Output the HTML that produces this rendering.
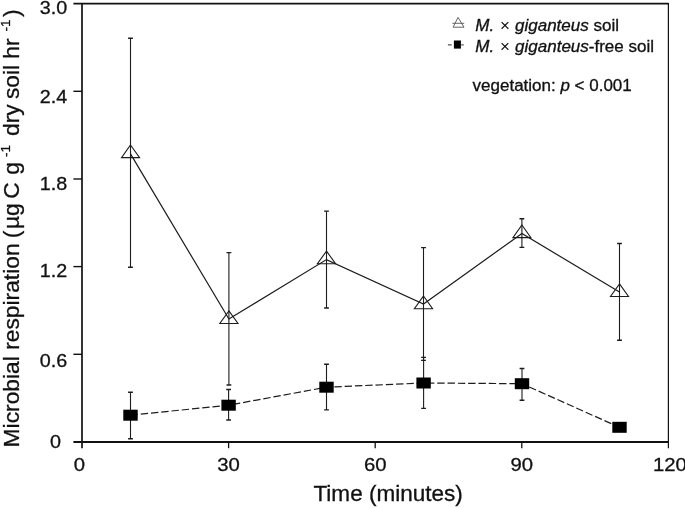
<!DOCTYPE html>
<html><head><meta charset="utf-8"><title>Microbial respiration</title>
<style>html,body{margin:0;padding:0;background:#fff}svg{display:block;will-change:transform}text{font-family:"Liberation Sans",Arial,sans-serif;fill:#111;stroke:#111;stroke-width:0.3px}</style></head><body>
<svg width="685" height="508" viewBox="0 0 685 508">
<rect width="685" height="508" fill="#fff"/>
<g stroke="#1c1c1c" stroke-width="1.1" fill="none">
<path d="M130.5 38.2V267.3"/><path stroke-width="1.4" d="M128.1 38.2H132.9M128.1 267.3H132.9"/>
<path d="M228.9 252.6V385.0"/><path stroke-width="1.4" d="M226.5 252.6H231.3M226.5 385.0H231.3"/>
<path d="M326.5 211.1V308.0"/><path stroke-width="1.4" d="M324.1 211.1H328.9M324.1 308.0H328.9"/>
<path d="M423.5 247.6V360.4"/><path stroke-width="1.4" d="M421.1 247.6H425.9M421.1 360.4H425.9"/>
<path d="M521.9 218.7V247.4"/><path stroke-width="1.4" d="M519.5 218.7H524.3M519.5 247.4H524.3"/>
<path d="M619.5 243.5V340.3"/><path stroke-width="1.4" d="M617.1 243.5H621.9M617.1 340.3H621.9"/>
<path d="M130.5 392.3V438.7"/><path stroke-width="1.4" d="M128.1 392.3H132.9M128.1 438.7H132.9"/>
<path d="M228.6 389.5V420.0"/><path stroke-width="1.4" d="M226.2 389.5H231.0M226.2 420.0H231.0"/>
<path d="M326.5 364.2V409.9"/><path stroke-width="1.4" d="M324.1 364.2H328.9M324.1 409.9H328.9"/>
<path d="M423.6 357.4V408.4"/><path stroke-width="1.4" d="M421.2 357.4H426.0M421.2 408.4H426.0"/>
<path d="M522.0 368.5V400.2"/><path stroke-width="1.4" d="M519.6 368.5H524.4M519.6 400.2H524.4"/>
</g>
<polyline fill="none" stroke="#1c1c1c" stroke-width="1.2" points="130.5,153.9 228.9,319.0 326.5,259.6 423.5,304.0 521.9,233.5 619.5,292.0"/>
<polyline fill="none" stroke="#1c1c1c" stroke-width="1.2" stroke-dasharray="7.4 2.9" points="130.5,415.2 228.6,405.2 326.5,387.2 423.6,383.0 522.0,383.7 619.5,427.3"/>
<path d="M130.5 145.00L139.6 157.65L121.5 157.65Z" fill="none" stroke="#1c1c1c" stroke-width="1.1" stroke-linejoin="miter"/>
<path d="M228.9 310.85L238.0 323.50L219.8 323.50Z" fill="none" stroke="#1c1c1c" stroke-width="1.1" stroke-linejoin="miter"/>
<path d="M326.5 251.10L335.6 263.75L317.4 263.75Z" fill="none" stroke="#1c1c1c" stroke-width="1.1" stroke-linejoin="miter"/>
<path d="M423.5 296.05L432.6 308.70L414.4 308.70Z" fill="none" stroke="#1c1c1c" stroke-width="1.1" stroke-linejoin="miter"/>
<path d="M521.9 225.00L530.9 237.65L512.9 237.65Z" fill="none" stroke="#1c1c1c" stroke-width="1.1" stroke-linejoin="miter"/>
<path d="M619.5 283.90L628.5 296.55L610.5 296.55Z" fill="none" stroke="#1c1c1c" stroke-width="1.1" stroke-linejoin="miter"/>
<rect x="123.3" y="409.7" width="14.4" height="11" fill="#000"/>
<rect x="221.4" y="399.7" width="14.4" height="11" fill="#000"/>
<rect x="319.3" y="381.7" width="14.4" height="11" fill="#000"/>
<rect x="416.4" y="377.5" width="14.4" height="11" fill="#000"/>
<rect x="514.8" y="378.2" width="14.4" height="11" fill="#000"/>
<rect x="612.3" y="421.8" width="14.4" height="11" fill="#000"/>
<g stroke="#111" fill="none">
<path d="M73.4 3.6H668.4" stroke-width="1.6"/>
<path d="M82 2.9V448.2" stroke-width="1.7"/>
<path d="M73.4 442H669" stroke-width="1.8"/>
<path d="M668.4 3V448.2" stroke-width="1.2"/>
<path d="M73.4 354.3H82" stroke-width="1.4"/>
<path d="M73.4 266.6H82" stroke-width="1.4"/>
<path d="M73.4 179.0H82" stroke-width="1.4"/>
<path d="M73.4 91.3H82" stroke-width="1.4"/>
<path d="M228.6 442V448.2" stroke-width="1.3"/>
<path d="M375.2 442V448.2" stroke-width="1.3"/>
<path d="M521.8 442V448.2" stroke-width="1.3"/>
</g>
<text transform="translate(67.3 14.2) scale(1.040 1)" font-size="19" text-anchor="end">3.0</text>
<text transform="translate(67.3 103.0) scale(1.040 1)" font-size="19" text-anchor="end">2.4</text>
<text transform="translate(67.3 190.4) scale(1.040 1)" font-size="19" text-anchor="end">1.8</text>
<text transform="translate(67.3 277.1) scale(1.040 1)" font-size="19" text-anchor="end">1.2</text>
<text transform="translate(67.3 366.8) scale(1.040 1)" font-size="19" text-anchor="end">0.6</text>
<text transform="translate(61.0 448.4) scale(1.040 1)" font-size="19" text-anchor="end">0</text>
<text transform="translate(79.4 471.2) scale(1.070 1)" font-size="19" text-anchor="middle">0</text>
<text transform="translate(228.6 471.2) scale(1.070 1)" font-size="19" text-anchor="middle">30</text>
<text transform="translate(375.2 471.2) scale(1.070 1)" font-size="19" text-anchor="middle">60</text>
<text transform="translate(521.8 471.2) scale(1.070 1)" font-size="19" text-anchor="middle">90</text>
<text transform="translate(653.0 471.2) scale(1.070 1)" font-size="19" text-anchor="start">120</text>
<text transform="translate(388.1 500.7) scale(1.063 1)" font-size="21.2" text-anchor="middle">Time (minutes)</text>
<text transform="translate(18.7 447.40) rotate(-90)" font-size="22.8">Microbial respiration</text>
<text transform="translate(18.7 238.30) rotate(-90)" font-size="22.8">(</text>
<text transform="translate(18.7 229.10) rotate(-90)" font-size="22.8">µg</text>
<text transform="translate(18.7 198.70) rotate(-90)" font-size="22.8">C</text>
<text transform="translate(18.7 174.80) rotate(-90)" font-size="22.8">g</text>
<text transform="translate(10.2 156.90) rotate(-90)" font-size="13.5">-1</text>
<text transform="translate(18.7 136.00) rotate(-90)" font-size="22.8">dry</text>
<text transform="translate(18.7 99.10) rotate(-90)" font-size="22.8">soil</text>
<text transform="translate(18.7 58.70) rotate(-90)" font-size="22.8">hr</text>
<text transform="translate(10.2 31.50) rotate(-90)" font-size="13.5">-1</text>
<text transform="translate(18.7 17.00) rotate(-90)" font-size="22.8">)</text>
<g stroke="#555" stroke-width="0.9" fill="none"><path d="M458 17.4L464 27.2H453.1Z"/><path d="M452.4 23.3H464.2"/><path d="M447.9 44.8H451.7M461.2 44.8H463.7" stroke-width="1.2"/></g>
<rect x="453.9" y="40.5" width="7" height="8.1" fill="#000"/>
<text transform="translate(475.3 30.7) scale(1.062 1)" font-size="16" text-anchor="start"><tspan font-style="italic">M. <tspan dx="0.7" stroke="none">×</tspan><tspan dx="0.7"> giganteus</tspan></tspan> soil</text>
<text transform="translate(475.3 52.2) scale(1.064 1)" font-size="16" text-anchor="start"><tspan font-style="italic">M. <tspan dx="0.7" stroke="none">×</tspan><tspan dx="0.7"> giganteus</tspan></tspan>-free soil</text>
<text transform="translate(472.6 90.6) scale(1.062 1)" font-size="16" text-anchor="start">vegetation: <tspan font-style="italic">p</tspan> &lt; 0.001</text>
</svg></body></html>
